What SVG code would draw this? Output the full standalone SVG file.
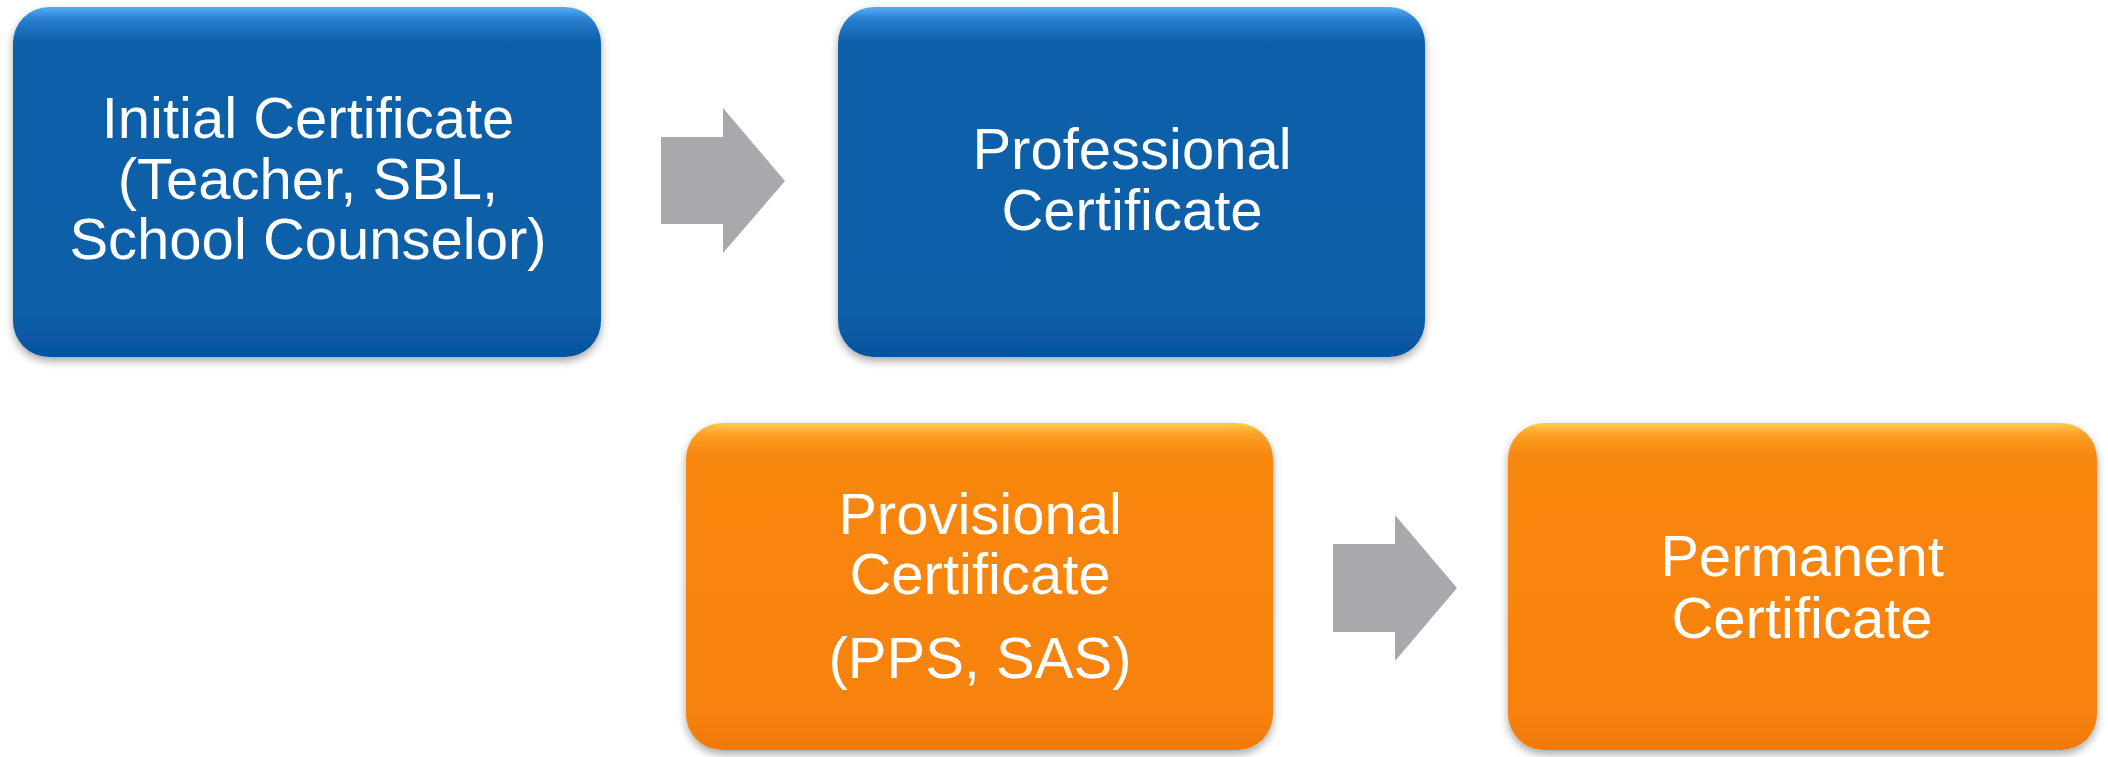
<svg xmlns="http://www.w3.org/2000/svg" width="2108" height="757" viewBox="0 0 2108 757">
<style>
.lbl{font-family:"Liberation Sans",Arial,sans-serif;font-size:58px;fill:#ffffff;text-anchor:middle}
.arrow{fill:#a7a9ac}
</style>
<defs>
<linearGradient id="gBlue" x1="0" y1="0" x2="0" y2="1">
<stop offset="0" stop-color="#55aefc"/>
<stop offset="0.035" stop-color="#2a7fd0"/>
<stop offset="0.1" stop-color="#0c5fa9"/>
<stop offset="0.88" stop-color="#0b5ea8"/>
<stop offset="1" stop-color="#0553a0"/>
</linearGradient>
<linearGradient id="gOrange" x1="0" y1="0" x2="0" y2="1">
<stop offset="0" stop-color="#ffcc50"/>
<stop offset="0.035" stop-color="#fca025"/>
<stop offset="0.1" stop-color="#f8870e"/>
<stop offset="0.88" stop-color="#f7820a"/>
<stop offset="1" stop-color="#ee7a06"/>
</linearGradient>
<filter id="sh" x="-5%" y="-5%" width="110%" height="115%">
<feDropShadow dx="0" dy="4" stdDeviation="4" flood-color="#000" flood-opacity="0.35"/>
</filter>
</defs>
<rect width="2108" height="757" fill="#ffffff"/>
<g id="node-initial">
<rect x="13" y="7" width="588" height="350" rx="36" fill="url(#gBlue)" filter="url(#sh)"/>
<text class="lbl" x="308" y="138">Initial Certificate</text>
<text class="lbl" x="308" y="199">(Teacher, SBL,</text>
<text class="lbl" x="308" y="259">School Counselor)</text>
</g>
<g id="node-professional">
<rect x="838" y="7" width="587" height="350" rx="36" fill="url(#gBlue)" filter="url(#sh)"/>
<text class="lbl" x="1132" y="169">Professional</text>
<text class="lbl" x="1132" y="230">Certificate</text>
</g>
<g id="node-provisional">
<rect x="686" y="423" width="587" height="327" rx="36" fill="url(#gOrange)" filter="url(#sh)"/>
<text class="lbl" x="980" y="534">Provisional</text>
<text class="lbl" x="980" y="594">Certificate</text>
<text class="lbl" x="980" y="678">(PPS, SAS)</text>
</g>
<g id="node-permanent">
<rect x="1508" y="423" width="589" height="327" rx="36" fill="url(#gOrange)" filter="url(#sh)"/>
<text class="lbl" x="1802" y="576">Permanent</text>
<text class="lbl" x="1802" y="638">Certificate</text>
</g>
<g id="connectors">
<polygon class="arrow" points="661,137 723,137 723,108 785,181 723,253 723,224 661,224"/>
<polygon class="arrow" points="1333,544 1395,544 1395,515 1457,588 1395,661 1395,632 1333,632"/>
</g>
</svg>
